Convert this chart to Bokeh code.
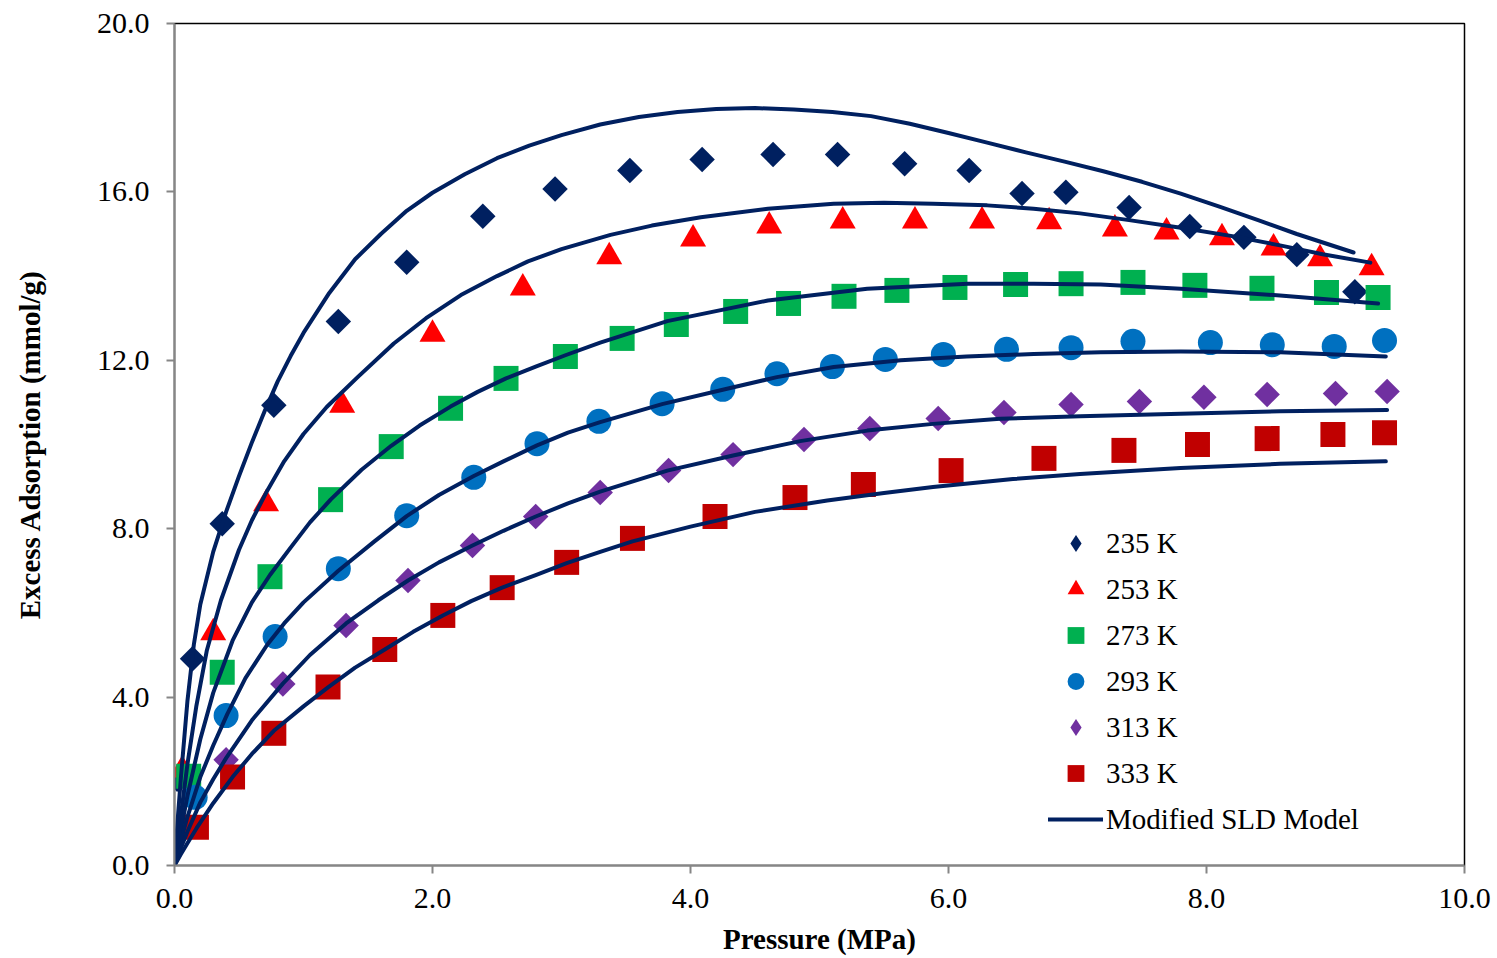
import math
from bokeh.plotting import figure
from bokeh.models import (Range1d, FixedTicker, PrintfTickFormatter, Legend, LegendItem)
from bokeh.embed import file_html
from bokeh.resources import INLINE

# ---------------- data ----------------
x_ticks = [0, 2, 4, 6, 8, 10]
y_ticks = [0, 4, 8, 12, 16, 20]

series_labels = ["235 K", "253 K", "273 K", "293 K", "313 K", "333 K"]
model_label = "Modified SLD Model"

p235_x = [0.02, 0.14, 0.37, 0.77, 1.27, 1.80, 2.39, 2.95, 3.53, 4.09, 4.64, 5.14, 5.66, 6.16, 6.57, 6.91, 7.40, 7.87, 8.29, 8.70, 9.15]
p235_y = [2.05, 4.91, 8.12, 10.93, 12.92, 14.33, 15.42, 16.07, 16.51, 16.77, 16.89, 16.89, 16.67, 16.51, 15.96, 15.99, 15.63, 15.18, 14.92, 14.51, 13.63]

p253_x = [0.06, 0.30, 0.71, 1.30, 2.00, 2.70, 3.37, 4.02, 4.61, 5.18, 5.74, 6.26, 6.78, 7.29, 7.69, 8.12, 8.52, 8.88, 9.28]
p253_y = [2.27, 5.53, 8.59, 10.93, 12.62, 13.72, 14.46, 14.88, 15.19, 15.31, 15.31, 15.31, 15.29, 15.12, 15.05, 14.91, 14.67, 14.41, 14.20]

p273_x = [0.11, 0.37, 0.74, 1.21, 1.68, 2.14, 2.57, 3.03, 3.47, 3.89, 4.35, 4.76, 5.19, 5.60, 6.05, 6.52, 6.95, 7.43, 7.91, 8.43, 8.93, 9.33]
p273_y = [2.12, 4.59, 6.86, 8.69, 9.95, 10.86, 11.57, 12.09, 12.52, 12.85, 13.16, 13.35, 13.52, 13.66, 13.73, 13.80, 13.82, 13.85, 13.78, 13.71, 13.61, 13.49]

p293_x = [0.16, 0.40, 0.78, 1.27, 1.80, 2.32, 2.81, 3.29, 3.78, 4.25, 4.67, 5.10, 5.51, 5.96, 6.45, 6.95, 7.43, 8.03, 8.51, 8.99, 9.38]
p293_y = [1.62, 3.56, 5.44, 7.05, 8.31, 9.22, 10.02, 10.55, 10.97, 11.31, 11.68, 11.85, 12.02, 12.14, 12.26, 12.30, 12.45, 12.42, 12.37, 12.33, 12.47]

p313_x = [0.40, 0.84, 1.33, 1.81, 2.31, 2.80, 3.30, 3.83, 4.33, 4.88, 5.39, 5.92, 6.43, 6.95, 7.48, 7.98, 8.47, 9.00, 9.40]
p313_y = [2.51, 4.31, 5.70, 6.77, 7.60, 8.29, 8.86, 9.38, 9.76, 10.12, 10.38, 10.62, 10.76, 10.95, 11.02, 11.12, 11.19, 11.21, 11.26]

p333_x = [0.17, 0.45, 0.77, 1.19, 1.63, 2.08, 2.54, 3.04, 3.55, 4.19, 4.81, 5.34, 6.02, 6.74, 7.36, 7.93, 8.47, 8.98, 9.38]
p333_y = [0.91, 2.10, 3.14, 4.24, 5.13, 5.94, 6.60, 7.20, 7.77, 8.29, 8.74, 9.05, 9.38, 9.67, 9.86, 10.00, 10.14, 10.24, 10.28]

# Modified SLD model curves
m235_x = [0, 0.025, 0.05, 0.1, 0.15, 0.2, 0.3, 0.4, 0.5, 0.6, 0.7, 0.8, 0.9, 1.0, 1.2, 1.4, 1.6, 1.8, 2.0, 2.25, 2.5, 2.75, 3.0, 3.3, 3.6, 3.9, 4.2, 4.5, 4.8, 5.1, 5.4, 5.7, 6.0, 6.3, 6.6, 6.9, 7.2, 7.5, 7.8, 8.1, 8.4, 8.7, 9.14]
m235_y = [0, 1.1, 2.1, 3.9, 5.25, 6.2, 7.45, 8.4, 9.25, 10.05, 10.8, 11.5, 12.1, 12.65, 13.6, 14.4, 15.0, 15.55, 15.98, 16.42, 16.8, 17.1, 17.35, 17.6, 17.78, 17.9, 17.97, 17.99, 17.96, 17.9, 17.8, 17.62, 17.4, 17.17, 16.94, 16.72, 16.49, 16.24, 15.96, 15.65, 15.33, 15.0, 14.56]

m253_x = [0, 0.05, 0.1, 0.17, 0.25, 0.36, 0.5, 0.6, 0.72, 0.85, 1.0, 1.18, 1.42, 1.7, 1.95, 2.22, 2.5, 2.74, 3.0, 3.38, 3.7, 4.08, 4.6, 5.11, 5.5, 5.88, 6.3, 6.66, 7.02, 7.4, 7.8, 8.2, 8.57, 8.9, 9.27]
m253_y = [0, 1.2, 2.4, 3.8, 5.1, 6.3, 7.5, 8.2, 8.91, 9.6, 10.25, 10.89, 11.6, 12.4, 13.0, 13.55, 14.0, 14.35, 14.64, 14.98, 15.2, 15.4, 15.6, 15.72, 15.74, 15.72, 15.68, 15.6, 15.49, 15.33, 15.15, 14.95, 14.73, 14.52, 14.32]

m273_x = [0, 0.05, 0.1, 0.2, 0.3, 0.45, 0.6, 0.74, 0.9, 1.05, 1.21, 1.45, 1.68, 1.9, 2.14, 2.35, 2.57, 2.8, 3.03, 3.3, 3.82, 4.6, 5.37, 6.15, 6.66, 7.18, 7.8, 8.57, 9.33]
m273_y = [0, 0.85, 1.65, 3.0, 4.1, 5.34, 6.25, 6.9, 7.55, 8.15, 8.69, 9.4, 9.97, 10.45, 10.9, 11.25, 11.57, 11.85, 12.12, 12.42, 12.93, 13.42, 13.7, 13.82, 13.82, 13.8, 13.7, 13.54, 13.35]

m293_x = [0, 0.05, 0.1, 0.2, 0.3, 0.41, 0.55, 0.72, 0.85, 1.0, 1.27, 1.55, 1.8, 2.05, 2.32, 2.55, 2.81, 3.05, 3.3, 3.78, 4.25, 4.67, 5.11, 5.63, 6.14, 6.66, 7.18, 7.8, 8.57, 9.39]
m293_y = [0, 0.6, 1.15, 2.1, 2.85, 3.6, 4.45, 5.25, 5.75, 6.25, 7.0, 7.7, 8.3, 8.8, 9.25, 9.6, 9.98, 10.28, 10.53, 10.96, 11.3, 11.6, 11.84, 12.0, 12.09, 12.15, 12.19, 12.21, 12.19, 12.09]

m313_x = [0, 0.05, 0.1, 0.2, 0.3, 0.4, 0.6, 0.84, 1.05, 1.33, 1.58, 1.81, 2.05, 2.31, 2.55, 2.8, 3.05, 3.3, 3.82, 4.33, 4.85, 5.37, 5.88, 6.4, 7.02, 7.8, 8.57, 9.4]
m313_y = [0, 0.42, 0.8, 1.5, 2.05, 2.55, 3.45, 4.32, 5.0, 5.75, 6.3, 6.77, 7.2, 7.6, 7.95, 8.29, 8.6, 8.88, 9.38, 9.74, 10.08, 10.33, 10.49, 10.61, 10.67, 10.73, 10.79, 10.82]

m333_x = [0, 0.05, 0.1, 0.17, 0.3, 0.45, 0.6, 0.77, 1.0, 1.19, 1.4, 1.63, 1.85, 2.08, 2.3, 2.54, 2.8, 3.04, 3.3, 3.55, 4.0, 4.5, 5.06, 5.5, 5.88, 6.5, 7.02, 7.8, 8.57, 9.39]
m333_y = [0, 0.27, 0.53, 0.88, 1.48, 2.1, 2.65, 3.2, 3.78, 4.23, 4.7, 5.13, 5.55, 5.94, 6.28, 6.6, 6.9, 7.18, 7.45, 7.7, 8.05, 8.4, 8.67, 8.85, 8.99, 9.18, 9.30, 9.44, 9.54, 9.60]

# ---------------- styles ----------------
FONT = "Liberation Serif"
NAVY = "#002060"
RED = "#FF0000"
GREEN = "#00B050"
BLUE = "#0070C0"
PURPLE = "#7030A0"
DKRED = "#C00000"
AXIS_GREY = "#868686"

p = figure(width=1497, height=958, x_range=Range1d(0, 10), y_range=Range1d(0, 20),
           output_backend="svg", toolbar_location=None,
           min_border_left=174, min_border_right=33, min_border_top=23, min_border_bottom=93)

p.background_fill_color = "white"
p.border_fill_color = "white"
p.outline_line_color = "black"
p.outline_line_width = 1.5
p.xgrid.visible = False
p.ygrid.visible = False

for ax in (p.xaxis[0], p.yaxis[0]):
    ax.axis_line_color = AXIS_GREY
    ax.axis_line_width = 2
    ax.major_tick_line_color = AXIS_GREY
    ax.major_tick_line_width = 2
    ax.major_tick_in = 0
    ax.major_tick_out = 8
    ax.minor_tick_line_color = None
    ax.major_label_text_font = FONT
    ax.major_label_text_font_size = "30px"
    ax.major_label_text_color = "black"
    ax.formatter = PrintfTickFormatter(format="%.1f")
    ax.axis_label_text_font = FONT
    ax.axis_label_text_font_style = "bold"
    ax.axis_label_text_font_size = "29px"
    ax.axis_label_text_color = "black"

p.xaxis[0].ticker = FixedTicker(ticks=x_ticks)
p.yaxis[0].ticker = FixedTicker(ticks=y_ticks)
p.xaxis[0].major_label_standoff = 15
p.yaxis[0].major_label_standoff = 17

p.xaxis[0].axis_label = "Pressure (MPa)"
p.xaxis[0].axis_label_standoff = 12
p.yaxis[0].axis_label = "Excess Adsorption (mmol/g)"
p.yaxis[0].axis_label_standoff = 48

# ---------------- markers ----------------
r235 = p.scatter(p235_x, p235_y, marker="square", size=18, angle=math.pi / 4,
                 fill_color=NAVY, line_color=NAVY, line_width=0)
r253 = p.scatter(p253_x, p253_y, marker="triangle", size=26,
                 fill_color=RED, line_color=RED, line_width=0)
r273 = p.scatter(p273_x, p273_y, marker="square", size=25,
                 fill_color=GREEN, line_color=GREEN, line_width=0)
r293 = p.scatter(p293_x, p293_y, marker="circle", size=25,
                 fill_color=BLUE, line_color=BLUE, line_width=0)
r313 = p.scatter(p313_x, p313_y, marker="square", size=18, angle=math.pi / 4,
                 fill_color=PURPLE, line_color=PURPLE, line_width=0)
r333 = p.scatter(p333_x, p333_y, marker="square", size=25,
                 fill_color=DKRED, line_color=DKRED, line_width=0)

# legend glyphs for the diamond series (legend markers are drawn unrotated)
l235 = p.scatter(p235_x, p235_y, marker="diamond", size=18, fill_color=NAVY, line_color=NAVY,
                 line_width=0, visible=False)
l313 = p.scatter(p313_x, p313_y, marker="diamond", size=18, fill_color=PURPLE, line_color=PURPLE,
                 line_width=0, visible=False)

# ---------------- model curves ----------------
model_x = [m235_x, m253_x, m273_x, m293_x, m313_x, m333_x]
model_y = [m235_y, m253_y, m273_y, m293_y, m313_y, m333_y]
model_renderers = []
for mx, my in zip(model_x, model_y):
    model_renderers.append(p.line(mx, my, line_color=NAVY, line_width=4, line_cap="round", line_join="round"))

legend = Legend(items=[
    LegendItem(label=series_labels[0], renderers=[l235]),
    LegendItem(label=series_labels[1], renderers=[r253]),
    LegendItem(label=series_labels[2], renderers=[r273]),
    LegendItem(label=series_labels[3], renderers=[r293]),
    LegendItem(label=series_labels[4], renderers=[l313]),
    LegendItem(label=series_labels[5], renderers=[r333]),
    LegendItem(label=model_label, renderers=[model_renderers[0]]),
], location=(874, 25))
legend.padding = 0
legend.margin = 0
legend.spacing = 4
legend.glyph_height = 42
legend.glyph_width = 55
legend.label_standoff = 3
legend.border_line_color = None
legend.background_fill_alpha = 0
legend.label_text_font = FONT
legend.label_text_font_size = "29px"
legend.label_text_color = "black"
p.add_layout(legend, "center")

open("out.html", "w").write(file_html(p, INLINE))
